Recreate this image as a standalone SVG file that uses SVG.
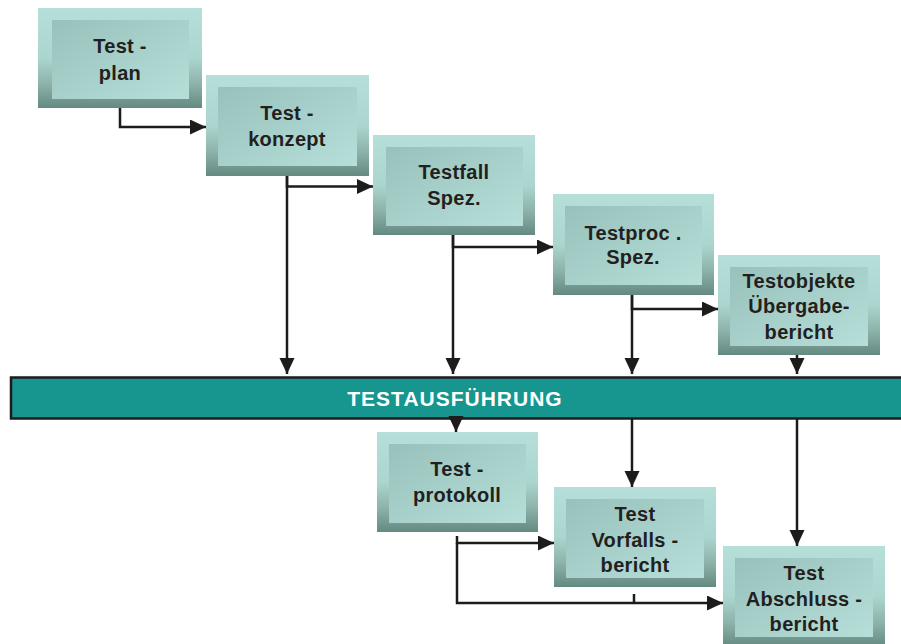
<svg xmlns="http://www.w3.org/2000/svg" width="901" height="644" viewBox="0 0 901 644">
  <defs>
    <linearGradient id="boxGrad" x1="0" y1="0" x2="0" y2="1">
      <stop offset="0" stop-color="#B5DFD8"/>
      <stop offset="0.5" stop-color="#ABD6CF"/>
      <stop offset="0.75" stop-color="#8EB4AB"/>
      <stop offset="1" stop-color="#648980"/>
    </linearGradient>
    <linearGradient id="panelGrad" x1="0" y1="0" x2="1" y2="1">
      <stop offset="0" stop-color="#99C1BB"/>
      <stop offset="1" stop-color="#B6DFD9"/>
    </linearGradient>
    <marker id="arrow" markerUnits="userSpaceOnUse" markerWidth="16" markerHeight="16" refX="16" refY="7.5" orient="auto">
      <path d="M0,0 L16,7.5 L0,15 z" fill="#1E1B1C"/>
    </marker>
  </defs>
  <style>
    .box { fill: url(#boxGrad); }
    .panel { fill: url(#panelGrad); }
    .label { font-family: "Liberation Sans", Arial, sans-serif; font-weight: bold; font-size: 20px; letter-spacing: 0.3px; fill: #231F20; text-anchor: middle; }
    .wire { fill: none; stroke: #1E1B1C; stroke-width: 2.5; }
    .arrowed { marker-end: url(#arrow); }
    .bar { fill: #17958F; stroke: #1E1B1C; stroke-width: 2.5; }
    .barText { font-family: "Liberation Sans", Arial, sans-serif; font-weight: bold; font-size: 21px; fill: #FFFFFF; text-anchor: middle; letter-spacing: 1px; }
  </style>

  <rect width="901" height="644" fill="#FFFFFF"/>

  <!-- execution bar, running off the right edge -->
  <g id="testausfuehrung">
    <rect class="bar" x="11" y="377.5" width="905" height="41"/>
    <text class="barText" x="455" y="406">TESTAUSFÜHRUNG</text>
  </g>

  <!-- connectors -->
  <g id="connectors">
    <path class="wire arrowed" d="M120,108 V127 H206"/>
    <path class="wire arrowed" d="M287,176 V186.5 H373"/>
    <path class="wire arrowed" d="M287,176 V374"/>
    <path class="wire arrowed" d="M453,235 V247 H553"/>
    <path class="wire arrowed" d="M453,235 V374"/>
    <path class="wire arrowed" d="M632,295 V309 H718"/>
    <path class="wire arrowed" d="M632,295 V374"/>
    <path class="wire arrowed" d="M797,355 V374"/>
    <path class="wire arrowed" d="M456,419 V432"/>
    <path class="wire arrowed" d="M632,419 V487"/>
    <path class="wire arrowed" d="M797,419 V546"/>
    <path class="wire arrowed" d="M457,536 V543 H554"/>
    <path class="wire arrowed" d="M457,543 V603 H723"/>
    <path class="wire" d="M634,594 V603"/>
  </g>

  <g id="testplan">
    <rect class="box" x="38" y="8" width="164" height="100"/>
    <rect class="panel" x="52" y="20" width="137" height="79"/>
    <text class="label" x="120" y="53">Test -</text>
    <text class="label" x="120" y="80">plan</text>
  </g>

  <g id="testkonzept">
    <rect class="box" x="206" y="75" width="163" height="101"/>
    <rect class="panel" x="218" y="87" width="139" height="79"/>
    <text class="label" x="287" y="120">Test -</text>
    <text class="label" x="287" y="146">konzept</text>
  </g>

  <g id="testfall-spez">
    <rect class="box" x="373" y="135" width="162" height="100"/>
    <rect class="panel" x="386" y="147" width="137" height="79"/>
    <text class="label" x="454" y="179">Testfall</text>
    <text class="label" x="454" y="205">Spez.</text>
  </g>

  <g id="testproc-spez">
    <rect class="box" x="553" y="194" width="161" height="101"/>
    <rect class="panel" x="565" y="206" width="137" height="79"/>
    <text class="label" x="633" y="240">Testproc .</text>
    <text class="label" x="633" y="264">Spez.</text>
  </g>

  <g id="testobjekte-uebergabebericht">
    <rect class="box" x="718" y="255" width="162" height="100"/>
    <rect class="panel" x="730" y="267" width="138" height="79"/>
    <text class="label" x="799" y="288">Testobjekte</text>
    <text class="label" x="799" y="313">Übergabe-</text>
    <text class="label" x="799" y="339">bericht</text>
  </g>

  <g id="testprotokoll">
    <rect class="box" x="377" y="432" width="161" height="100"/>
    <rect class="panel" x="389" y="444" width="137" height="79"/>
    <text class="label" x="457" y="476">Test -</text>
    <text class="label" x="457" y="502">protokoll</text>
  </g>

  <g id="test-vorfallsbericht">
    <rect class="box" x="554" y="487" width="162" height="100"/>
    <rect class="panel" x="566" y="499" width="138" height="79"/>
    <text class="label" x="635" y="521">Test</text>
    <text class="label" x="635" y="547">Vorfalls -</text>
    <text class="label" x="635" y="572">bericht</text>
  </g>

  <g id="test-abschlussbericht">
    <rect class="box" x="723" y="546" width="162" height="101"/>
    <rect class="panel" x="735" y="558" width="138" height="79"/>
    <text class="label" x="804" y="580">Test</text>
    <text class="label" x="804" y="606">Abschluss -</text>
    <text class="label" x="804" y="631">bericht</text>
  </g>
</svg>
